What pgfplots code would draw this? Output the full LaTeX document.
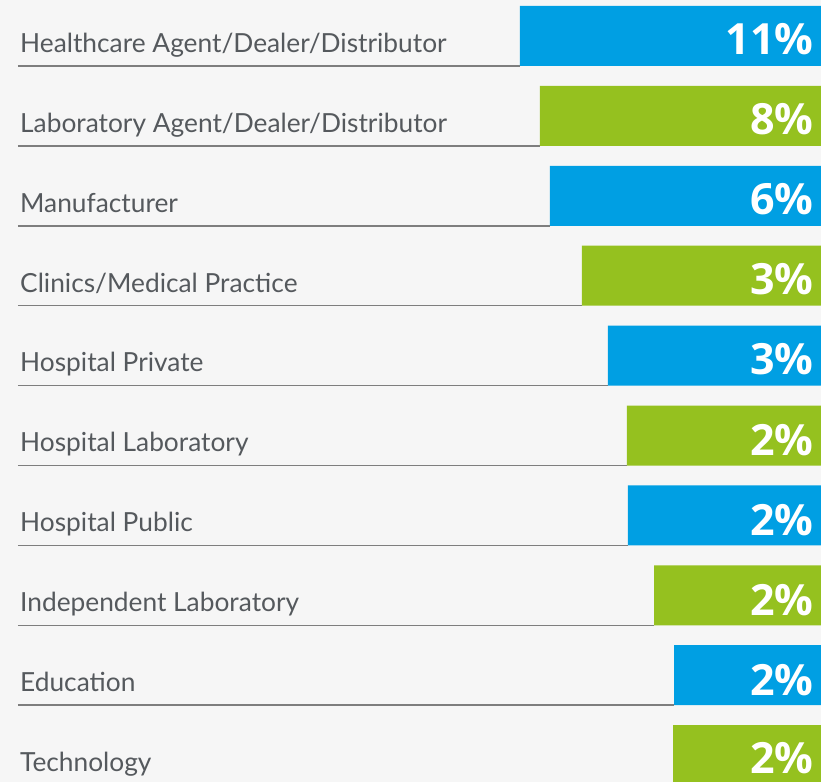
\documentclass[border=0pt]{standalone}
\usepackage{fontspec}
\setmainfont{Lato}
\newfontfamily\pctfont{Open Sans}
\usepackage{pgfplots}
\pgfplotsset{compat=1.18}
\definecolor{barblue}{HTML}{009FE3}
\definecolor{bargreen}{HTML}{95C11F}
\definecolor{bgcol}{HTML}{F6F6F6}
\definecolor{txtcol}{HTML}{55595D}
\definecolor{linecol}{HTML}{7E7E7E}
\tikzset{
  catlab/.style={anchor=base west, text=txtcol, font=\fontsize{26.3bp}{30bp}\selectfont, inner sep=0pt},
  pctlab/.style={anchor=base east, text=white, font=\pctfont\bfseries\fontsize{43bp}{46bp}\selectfont, inner sep=0pt},
  uline/.style={sharp plot, draw=linecol, line width=1.5bp, no marks},
}
\begin{document}
\begin{tikzpicture}
\begin{axis}[
  width=821bp, height=782bp, scale only axis,
  xmin=0, xmax=821, ymin=0, ymax=782,
  x dir=reverse, y dir=reverse,
  axis lines=none, ticks=none,
  axis background/.style={fill=bgcol},
]
% underlines
\addplot[uline] coordinates {(803,66) (301,66)};
\addplot[uline] coordinates {(803,145.9) (281,145.9)};
\addplot[uline] coordinates {(803,225.8) (271,225.8)};
\addplot[uline] coordinates {(803,305.7) (239,305.7)};
\addplot[uline] coordinates {(803,385.6) (213,385.6)};
\addplot[uline] coordinates {(803,465.5) (194,465.5)};
\addplot[uline] coordinates {(803,545.4) (193,545.4)};
\addplot[uline] coordinates {(803,625.3) (167,625.3)};
\addplot[uline] coordinates {(803,705.2) (147,705.2)};
% bars
\addplot[xbar, bar width=60, fill=barblue, draw=none] coordinates {(301,36) (271,195.8) (213,355.6) (193,515.4) (147,675.2)};
\addplot[xbar, bar width=60, fill=bargreen, draw=none] coordinates {(281,115.9) (239,275.7) (194,435.5) (167,595.3) (148,755.1)};
% category labels
\node[catlab] at (axis cs:801,52.3) {Healthcare Agent/Dealer/Distributor};
\node[catlab] at (axis cs:801,132.2) {Laboratory Agent/Dealer/Distributor};
\node[catlab] at (axis cs:801,212.1) {Manufacturer};
\node[catlab] at (axis cs:801,292.0) {Clinics/Medical Practice};
\node[catlab] at (axis cs:801,371.9) {Hospital Private};
\node[catlab] at (axis cs:801,451.8) {Hospital Laboratory};
\node[catlab] at (axis cs:801,531.7) {Hospital Public};
\node[catlab] at (axis cs:801,611.6) {Independent Laboratory};
\node[catlab] at (axis cs:801,691.5) {Education};
\node[catlab] at (axis cs:801,771.4) {Technology};
% percentages
\node[pctlab] at (axis cs:7.5,54.5) {11\%};
\node[pctlab] at (axis cs:7.5,134.6) {8\%};
\node[pctlab] at (axis cs:7.5,214.7) {6\%};
\node[pctlab] at (axis cs:7.5,294.8) {3\%};
\node[pctlab] at (axis cs:7.5,374.9) {3\%};
\node[pctlab] at (axis cs:7.5,455.0) {2\%};
\node[pctlab] at (axis cs:7.5,535.1) {2\%};
\node[pctlab] at (axis cs:7.5,615.2) {2\%};
\node[pctlab] at (axis cs:7.5,695.0) {2\%};
\node[pctlab] at (axis cs:7.5,773.5) {2\%};
\end{axis}
\end{tikzpicture}
\end{document}
